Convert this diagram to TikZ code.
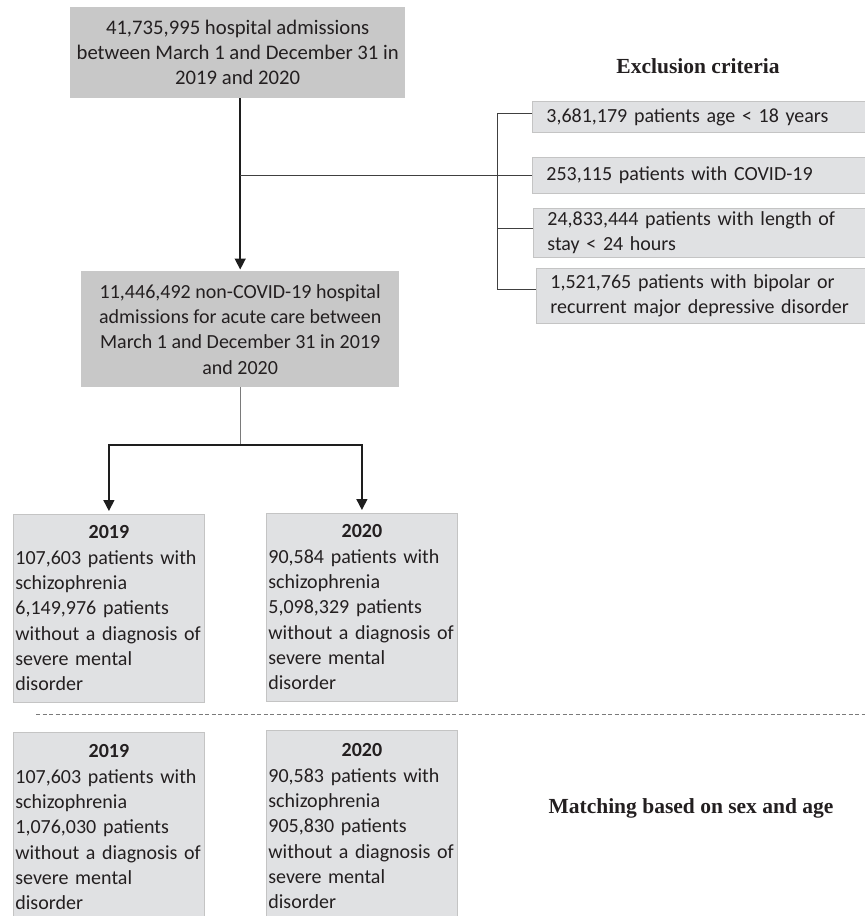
\documentclass[tikz,border=0pt]{standalone}
\usepackage{fontspec}
\setmainfont{Carlito}
\newfontfamily\headfont{Liberation Serif}
\usetikzlibrary{arrows.meta}
\definecolor{darkbox}{HTML}{C8C8C8}
\definecolor{lightbox}{HTML}{E0E1E3}
\definecolor{boxline}{HTML}{C4C4C4}
\definecolor{txt}{HTML}{231F20}
\definecolor{linedark}{HTML}{1E1E1E}
\definecolor{linegray}{HTML}{7A7A7A}
\begin{document}
\begin{tikzpicture}[x=1pt,y=-1pt,
  bodyfont/.style={font=\fontsize{20}{25.3}\selectfont, text=txt},
  mainbox/.style={bodyfont, fill=darkbox, draw=none, align=center, inner sep=0pt, anchor=north west},
  exbox/.style={bodyfont, fill=lightbox, draw=boxline, line width=0.8pt, align=left, inner xsep=14pt, inner ysep=0pt, anchor=north west},
  yearbox/.style={bodyfont, fill=lightbox, draw=boxline, line width=0.8pt, align=left, inner xsep=2pt, inner ysep=0pt, text width=187pt, anchor=north west},
  heading/.style={font=\headfont\bfseries\fontsize{21.5}{24}\selectfont, text=txt, inner sep=0pt},
  arrowline/.style={draw=linedark, line width=1.5pt, -{Triangle[length=11pt,width=11pt]}},
  bracketline/.style={draw=linedark!85, line width=1pt}
]
\useasboundingbox (0,0) rectangle (865,916);

% main boxes
\node[mainbox, minimum width=335pt, minimum height=91pt, font=\fontsize{20.7}{25}\selectfont] (top) at (70,7)
  {41,735,995 hospital admissions\\between March 1 and December 31 in\\2019 and 2020};
\node[mainbox, minimum width=318pt, minimum height=116pt] (mid) at (81,271)
  {11,446,492 non-COVID-19 hospital\\admissions for acute care between\\March 1 and December 31 in 2019\\and 2020};

% exclusion criteria
\node[heading] (exhead) at (698,66) {Exclusion criteria};
\node[exbox, text width=312pt, minimum height=31pt] (ex1) at (532,101)
  {3,681,179 patients age < 18 years};
\node[exbox, text width=312pt, minimum height=36pt] (ex2) at (532,157)
  {253,115 patients with COVID-19};
\node[exbox, text width=311pt, minimum height=49pt] (ex3) at (533,208)
  {24,833,444 patients with length of\\stay < 24 hours};
\node[exbox, text width=308pt, minimum height=55pt] (ex4) at (536,268)
  {1,521,765 patients with bipolar or\\recurrent major depressive disorder};

% year boxes
\node[yearbox, minimum height=188pt] (y19) at (13,514)
  {\makebox[\linewidth]{\bfseries 2019}\\107,603 patients with\\schizophrenia\\6,149,976 patients\\without a diagnosis of\\severe mental\\disorder};
\node[yearbox, minimum height=188pt] (y20) at (266,513)
  {\makebox[\linewidth]{\bfseries 2020}\\90,584 patients with\\schizophrenia\\5,098,329 patients\\without a diagnosis of\\severe mental\\disorder};

% matched boxes
\node[yearbox, minimum height=190pt] (m19) at (13,732)
  {\makebox[\linewidth]{\bfseries 2019}\\107,603 patients with\\schizophrenia\\1,076,030 patients\\without a diagnosis of\\severe mental\\disorder};
\node[yearbox, minimum height=192pt] (m20) at (266,730)
  {\makebox[\linewidth]{\bfseries 2020}\\90,583 patients with\\schizophrenia\\905,830 patients\\without a diagnosis of\\severe mental\\disorder};
\node[heading] (mhead) at (691,808) {Matching based on sex and age};

% connectors
\coordinate (join) at (mid.north |- ex2.west);
\coordinate (split) at (mid.south |- 0,445);
\coordinate (dashL) at (36,714);
\coordinate (dashR) at (865,714);

\draw[arrowline, shorten >=1.5pt] (mid.north |- top.south) -- (mid.north);
\draw[bracketline] (join) -- (ex2.west);
\draw[bracketline] ([yshift=3pt]ex1.west) -- ++(-35,0) |- ([yshift=6pt]ex4.west);
\draw[bracketline] ([yshift=4pt]ex3.west) -- ++(-36,0);

\draw[draw=linegray, line width=1.4pt] (mid.south) -- (split);
\draw[arrowline, shorten >=3pt] (split) -| (y19.north);
\draw[arrowline, shorten >=3pt] (split) -| (y20.north);

\draw[draw=linegray, line width=1pt, dash pattern=on 4pt off 2.5pt] (dashL) -- (dashR);
\end{tikzpicture}
\end{document}
